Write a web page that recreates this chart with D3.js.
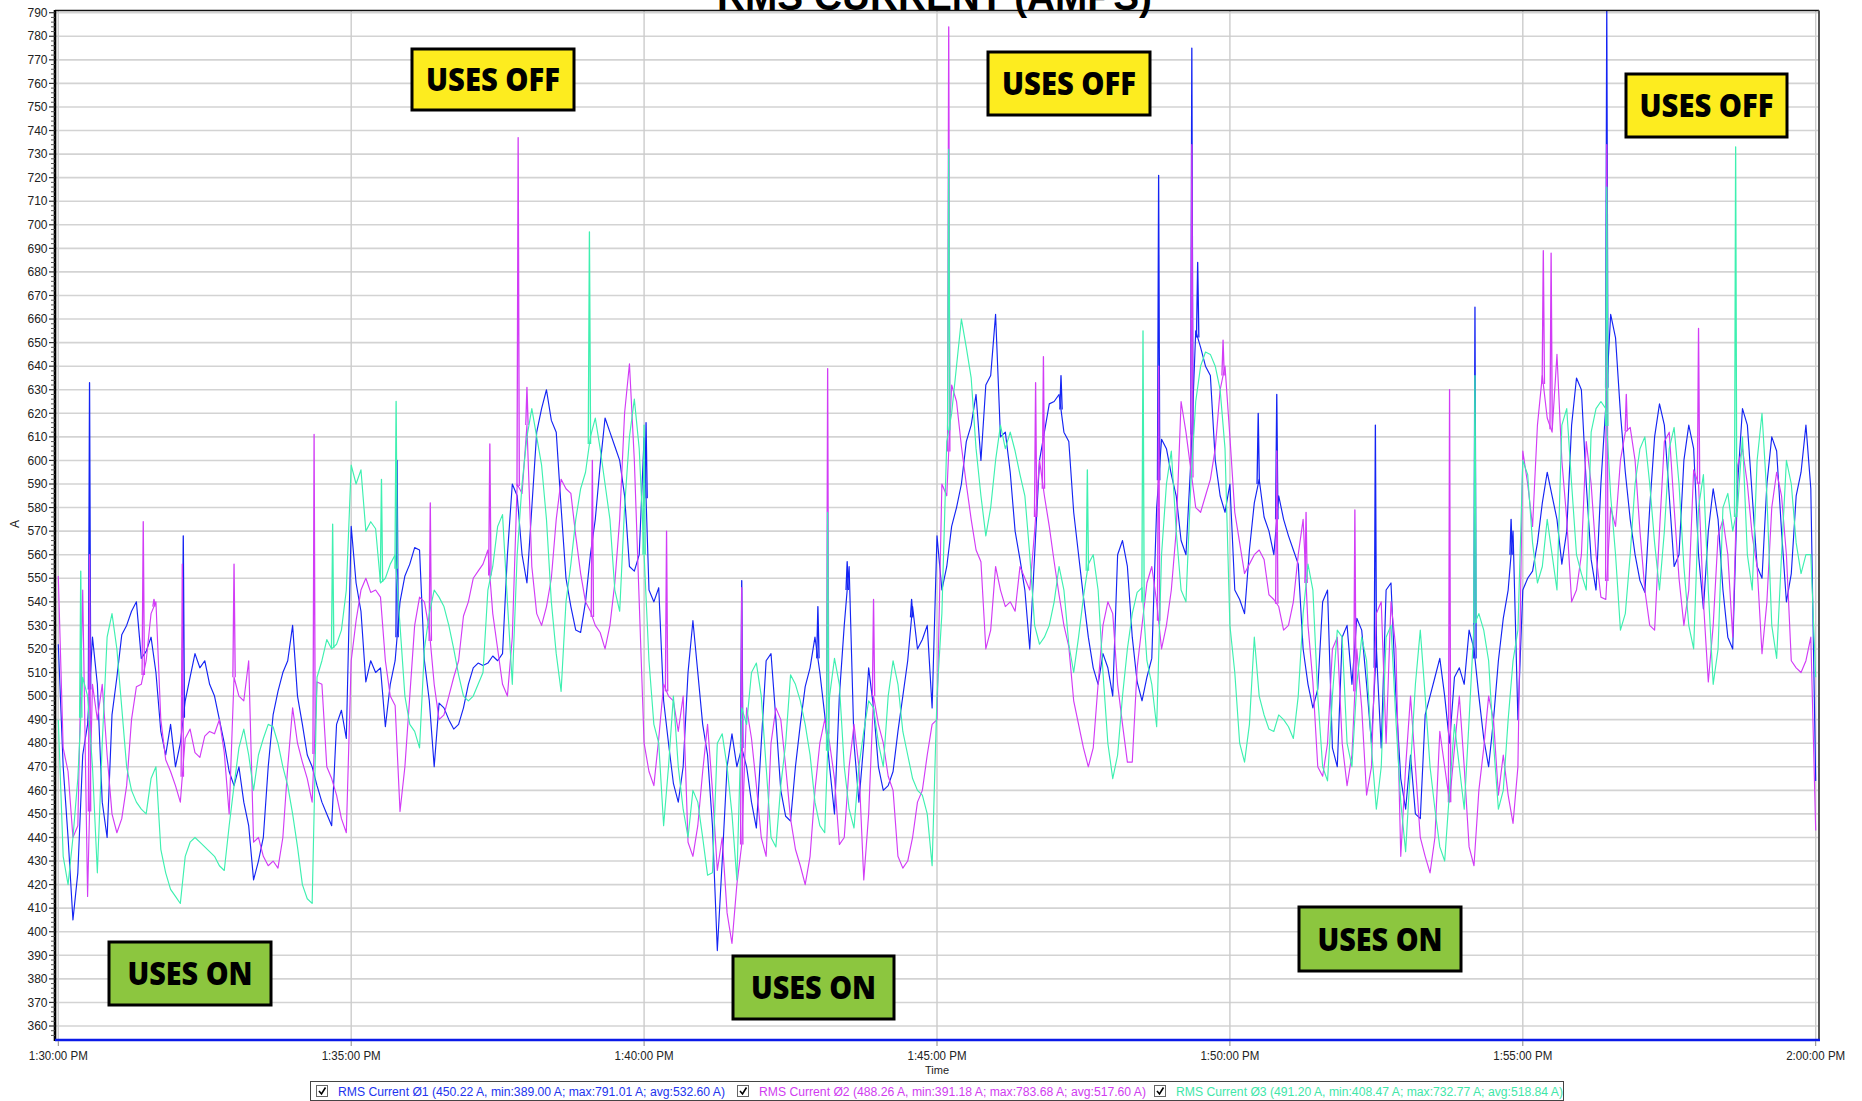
<!DOCTYPE html>
<html><head><meta charset="utf-8">
<script src="https://cdn.jsdelivr.net/npm/d3@7"></script>
<style>
html,body{margin:0;padding:0;background:#fff;}
svg{display:block;font-family:"Liberation Sans",Arial,sans-serif;}
</style></head><body>
<svg id="chart" width="1862" height="1101"></svg>
<script>
// ---------------- DATA ----------------
const chartTitle = "RMS CURRENT (AMPS)";
const xAxisTitle = "Time";
const yAxisTitle = "A";
const sampleStepSeconds = 5;              // one reading every 5 s, 13:30:00 -> 14:00:00
const yTickValues = [360,370,380,390,400,410,420,430,440,450,460,470,480,490,500,510,520,530,540,550,560,570,580,590,600,610,620,630,640,650,660,670,680,690,700,710,720,730,740,750,760,770,780,790];
const xTickLabels = ["1:30:00 PM","1:35:00 PM","1:40:00 PM","1:45:00 PM","1:50:00 PM","1:55:00 PM","2:00:00 PM"];
const seriesNames = [
  "RMS Current Ø1 (450.22 A, min:389.00 A; max:791.01 A; avg:532.60 A)",
  "RMS Current Ø2 (488.26 A, min:391.18 A; max:783.68 A; avg:517.60 A)",
  "RMS Current Ø3 (491.20 A, min:408.47 A; max:732.77 A; avg:518.84 A)"
];
const annotationLabels = ["USES OFF","USES OFF","USES OFF","USES ON","USES ON","USES ON"];

// Ø1 (one row = one minute, 12 readings)
const phase1 = [
522,470,440,405,425,475,488,525,505,455,440,492,
508,526,530,536,540,516,519,525,510,485,475,488,
470,480,498,508,518,512,515,505,500,490,480,468,
462,470,455,445,422,430,440,470,492,502,510,515,
530,500,488,475,470,462,455,450,445,488,494,482,
572,548,536,506,515,510,512,487,505,515,540,551,
556,563,562,515,498,470,497,495,490,486,488,495,
505,512,514,513,514,517,515,518,560,590,585,560,
548,580,612,622,630,617,612,580,550,538,528,527,
540,560,575,598,618,612,606,600,585,555,553,560,
610,545,540,546,498,480,463,455,470,510,532,510,
488,475,445,392,430,470,484,470,478,470,455,444,
480,515,518,490,460,449,447,470,488,504,512,525,
510,492,470,450,500,530,555,480,455,480,512,495,
470,460,462,468,485,500,515,538,520,524,530,495,
568,545,555,572,580,590,608,615,628,600,632,636,
662,610,612,595,570,558,545,520,560,600,612,624,
625,628,612,608,578,560,542,525,512,505,518,512,
500,560,566,555,525,506,498,508,516,580,609,605,
594,585,566,560,600,655,648,640,636,600,585,578,
590,545,541,535,562,582,592,576,570,560,585,575,
568,562,556,520,505,495,503,540,545,478,470,525,
530,505,533,528,505,480,520,478,545,548,500,465,
452,475,450,448,492,500,508,516,500,480,508,512,
505,528,520,500,482,470,490,515,533,545,570,490,
545,550,553,565,582,595,585,575,556,570,615,635,
630,590,558,545,590,623,662,652,620,595,575,560,
549,544,580,610,624,615,585,555,560,600,615,605,
560,537,570,588,575,545,525,520,590,622,615,585,
555,550,590,610,604,570,540,552,585,595,615,588,
464];

// Ø2
const phase2 = [
551,478,468,440,445,545,415,505,490,505,475,450,
442,448,462,490,504,505,515,535,540,490,473,468,
462,455,482,486,476,474,483,485,484,490,476,450,
508,500,498,515,438,440,432,428,430,427,440,470,
495,480,472,465,455,506,505,470,465,458,448,442,
515,532,545,550,544,545,542,515,500,496,451,470,
500,530,542,540,528,505,490,492,500,508,515,534,
540,550,553,556,562,535,520,505,500,525,590,586,
615,555,535,530,538,550,575,592,588,586,568,552,
540,536,530,527,520,530,548,575,620,641,600,540,
480,468,462,482,505,500,498,485,500,438,432,445,
468,488,460,426,440,408,395,420,437,495,482,462,
440,432,480,495,490,470,448,435,428,420,432,460,
480,490,480,465,437,440,470,488,470,422,450,500,
488,480,466,460,432,427,430,440,455,460,475,488,
490,590,585,632,625,606,590,575,562,557,520,528,
555,545,538,540,536,555,550,545,570,600,585,572,
557,543,530,521,498,488,478,470,478,505,530,540,
535,505,488,472,472,512,530,548,555,540,520,530,
545,570,625,612,596,580,578,585,592,605,630,640,
610,578,565,552,556,560,562,558,543,541,538,528,
530,540,560,575,530,506,470,466,480,520,525,480,
462,475,520,495,458,470,535,540,480,540,520,432,
470,500,470,440,432,425,440,485,470,455,478,500,
470,436,428,460,478,500,490,458,475,458,446,470,
604,590,572,615,636,618,612,645,600,575,540,545,
560,608,590,560,542,541,580,572,600,612,614,600,
570,545,530,528,570,608,612,580,550,530,545,596,
590,540,506,530,568,575,560,525,598,605,590,568,
555,518,540,580,595,585,560,515,512,510,515,525,
443];

// Ø3
const phase3 = [
490,432,420,440,465,508,500,470,425,480,525,535,
520,495,470,460,455,452,450,465,470,435,425,418,
415,412,432,438,440,438,436,434,432,428,426,445,
462,478,486,475,460,475,482,488,487,480,470,462,
450,436,420,414,412,508,515,524,520,522,528,545,
598,590,596,570,574,571,548,550,556,560,530,500,
488,485,478,520,535,545,542,538,530,520,509,500,
498,500,505,510,545,555,572,577,540,505,560,590,
610,622,610,598,575,540,518,502,540,556,575,588,
595,610,618,605,590,575,545,536,580,610,626,605,
560,515,488,480,445,470,500,470,452,440,460,455,
440,424,425,480,484,470,450,422,495,488,510,514,
500,470,440,436,462,480,509,505,498,488,475,455,
445,442,500,516,505,470,452,444,470,485,498,495,
480,470,500,515,505,485,475,465,460,458,450,428,
500,535,608,620,640,660,648,635,605,585,568,580,
600,615,605,612,604,594,585,560,530,522,525,530,
540,555,545,522,510,525,542,556,560,545,510,480,
465,475,500,520,535,544,546,515,505,487,560,590,
604,570,545,540,590,625,640,646,645,640,630,605,
530,510,480,472,488,525,500,492,486,485,492,490,
487,482,500,535,556,545,500,470,464,500,528,525,
480,470,505,525,515,478,452,470,525,530,490,455,
434,470,505,528,500,470,452,436,430,460,488,470,
452,490,530,535,528,515,480,452,460,490,515,528,
600,594,565,548,555,575,560,545,615,622,590,560,
552,545,612,622,625,622,585,560,528,535,560,590,
605,610,590,565,545,570,605,614,590,555,530,520,
580,594,545,505,520,580,586,570,580,610,560,545,
600,620,585,530,516,560,600,590,565,552,560,560,
508];

// short single-reading spikes: [seconds after 13:30:00, peak amps]
const spikes1 = [[32,633],[128,568],[347,600],[602,616],[700,549],[778,538],[808,557],[874,541],[1027,636],[1127,721],[1161,775],[1167,684],[1229,620],[1248,628],[1349,615],[1451,665],[1488,575],[1586,791]];
const spikes2 = [[32,560],[87,574],[98,541],[127,556],[180,556],[262,611],[381,582],[442,607],[471,737],[480,631],[547,600],[623,570],[700,546],[788,639],[835,541],[912,784],[1001,633],[1009,644],[1127,640],[1161,734],[1193,651],[1248,604],[1278,578],[1328,579],[1425,630],[1521,689],[1529,688],[1586,734],[1606,628],[1680,656]];
const spikes3 = [[23,553],[281,573],[331,592],[346,625],[544,697],[600,615],[788,578],[912,732],[1054,596],[1111,655],[1451,636],[1586,716],[1718,733]];

// ---------------- STYLE / LAYOUT ----------------
const colors = ["#1424f4","#d23cf6","#3ef0b0"];
const legendColors = ["#2233ee","#d03cf0","#3fe6a8"];
const W = 1862, H = 1101;
const plot = {left:55, right:1819, top:10.5, bottom:1040};
const boxes = [
  {x:412,y:49,w:162,h:61,fill:"#fdec1f",tw:134},
  {x:988,y:52,w:162,h:63,fill:"#fdec1f",tw:134},
  {x:1626,y:74,w:161,h:63,fill:"#fdec1f",tw:134},
  {x:109,y:942,w:162,h:63,fill:"#8cc63f",tw:125},
  {x:733,y:956,w:161,h:63,fill:"#8cc63f",tw:125},
  {x:1299,y:907,w:162,h:64,fill:"#8cc63f",tw:125}
];

const svg = d3.select("#chart");
svg.append("rect").attr("width",W).attr("height",H).attr("fill","#fff");

const t0 = new Date(2020,0,1,13,30,0);
const toDate = s => new Date(t0.getTime() + s*1000);
const x = d3.scaleTime().domain([t0, toDate(1800)]).range([58.3, 1815.7]);
const y = d3.scaleLinear().domain([360,790]).range([1026,12.7]);

// clip
svg.append("clipPath").attr("id","clip").append("rect")
  .attr("x",plot.left).attr("y",plot.top).attr("width",plot.right-plot.left).attr("height",plot.bottom-plot.top);

// horizontal grid
svg.append("g").selectAll("line").data(yTickValues).join("line")
  .attr("x1",plot.left).attr("x2",plot.right)
  .attr("y1",d=>y(d)).attr("y2",d=>y(d))
  .attr("stroke","#d3d3d3").attr("stroke-width",1.6);

// vertical grid
const xTicks = d3.timeMinute.every(5).range(t0, toDate(1801));
svg.append("g").selectAll("line").data(xTicks).join("line")
  .attr("x1",d=>x(d)).attr("x2",d=>x(d))
  .attr("y1",plot.top).attr("y2",plot.bottom)
  .attr("stroke","#cccccc").attr("stroke-width",1.4);

// series
const allSeries = [phase1, phase2, phase3];
const allSpikes = [spikes1, spikes2, spikes3];
const lineGen = d3.line().x(d=>x(toDate(d[0]))).y(d=>y(d[1]));
const gLines = svg.append("g").attr("clip-path","url(#clip)");
allSeries.forEach((vals,i)=>{
  const pts = vals.map((v,k)=>[k*sampleStepSeconds, v]);
  gLines.append("path").datum(pts)
    .attr("fill","none").attr("stroke",colors[i]).attr("stroke-width",1.15)
    .attr("stroke-linejoin","round").attr("d",lineGen);
  // spikes: narrow excursions from the line up to the read peak
  const baseAt = s => { const k = Math.min(Math.floor(s/sampleStepSeconds), vals.length-2); const f = s/sampleStepSeconds - k; return vals[k]*(1-f)+vals[k+1]*f; };
  gLines.append("g").selectAll("path").data(allSpikes[i]).join("path")
    .attr("fill","none").attr("stroke",colors[i]).attr("stroke-width",1.3)
    .attr("stroke-linejoin","round")
    .attr("d",d=>{
      const b = baseAt(d[0]);
      return lineGen([[d[0]-1.2,b],[d[0],d[1]],[d[0]+1.2,b]]);
    });
});

// frame
svg.append("line").attr("x1",plot.left).attr("x2",plot.right).attr("y1",plot.top).attr("y2",plot.top).attr("stroke","#111").attr("stroke-width",1.6);
svg.append("line").attr("x1",plot.right).attr("x2",plot.right).attr("y1",plot.top).attr("y2",plot.bottom).attr("stroke","#555").attr("stroke-width",2);
svg.append("line").attr("x1",plot.left).attr("x2",plot.left).attr("y1",plot.top-0.5).attr("y2",plot.bottom+1).attr("stroke","#000").attr("stroke-width",2.6);
svg.append("line").attr("x1",plot.left).attr("x2",plot.right+1).attr("y1",plot.bottom).attr("y2",plot.bottom).attr("stroke","#0a1ae8").attr("stroke-width",2.6);

// y axis ticks
const minor = d3.range(356, 791, 2).filter(v=>v%10!==0);
svg.append("g").selectAll("line").data(minor).join("line")
  .attr("x1",plot.left-4).attr("x2",plot.left).attr("y1",d=>y(d)).attr("y2",d=>y(d))
  .attr("stroke","#555").attr("stroke-width",1);
svg.append("g").selectAll("line").data(yTickValues).join("line")
  .attr("x1",plot.left-6).attr("x2",plot.left).attr("y1",d=>y(d)).attr("y2",d=>y(d))
  .attr("stroke","#333").attr("stroke-width",1.2);
svg.append("g").selectAll("text").data(yTickValues).join("text")
  .attr("x",47.5).attr("y",d=>y(d)).attr("dy","0.35em")
  .attr("text-anchor","end").attr("font-size",12).attr("fill","#222")
  .text(d=>d);

// x axis ticks
svg.append("g").selectAll("line").data(xTicks).join("line")
  .attr("x1",d=>x(d)).attr("x2",d=>x(d)).attr("y1",plot.bottom+1).attr("y2",plot.bottom+6)
  .attr("stroke","#888").attr("stroke-width",1);
svg.append("g").selectAll("text").data(xTicks).join("text")
  .attr("x",d=>x(d)).attr("y",1060).attr("text-anchor","middle")
  .attr("font-size",12).attr("fill","#222")
  .attr("textLength",59).attr("lengthAdjust","spacingAndGlyphs")
  .text((d,i)=>xTickLabels[i]);

// axis titles
svg.append("text").attr("x",x(toDate(900))).attr("y",1074).attr("text-anchor","middle")
  .attr("font-size",11).attr("fill","#222").text(xAxisTitle);
svg.append("text").attr("transform","translate(19,524) rotate(-90)").attr("text-anchor","middle")
  .attr("font-size",12).attr("fill","#222").text(yAxisTitle);

// title (cropped at the top edge, as in the reference)
svg.append("text").attr("x",934.5).attr("y",10).attr("text-anchor","middle")
  .attr("font-size",39).attr("font-weight","bold").attr("fill","#000")
  .attr("textLength",435).attr("lengthAdjust","spacingAndGlyphs").text(chartTitle);

// annotation boxes
const gA = svg.append("g");
boxes.forEach((b,i)=>{
  gA.append("rect").attr("x",b.x).attr("y",b.y).attr("width",b.w).attr("height",b.h)
    .attr("fill",b.fill).attr("stroke","#000").attr("stroke-width",3);
  gA.append("text").attr("x",b.x+b.w/2).attr("y",b.y+b.h/2+11.5).attr("text-anchor","middle")
    .attr("font-family","'Open Sans','Liberation Sans',sans-serif")
    .attr("font-size",31).attr("font-weight",800).attr("fill","#000")
    .attr("textLength",b.tw).attr("lengthAdjust","spacingAndGlyphs")
    .text(annotationLabels[i]);
});

// legend
const gL = svg.append("g");
gL.append("rect").attr("x",310.5).attr("y",1081.5).attr("width",1253).attr("height",19)
  .attr("fill","#fff").attr("stroke","#444").attr("stroke-width",1);
const legX = [316, 737, 1154];
seriesNames.forEach((name,i)=>{
  const cx = legX[i];
  gL.append("rect").attr("x",cx+0.5).attr("y",1085.5).attr("width",11).attr("height",11)
    .attr("fill","#fff").attr("stroke","#666").attr("stroke-width",1);
  gL.append("path").attr("d",`M${cx+3},${1091} L${cx+5.5},${1094} L${cx+9.5},${1087.5}`)
    .attr("fill","none").attr("stroke","#000").attr("stroke-width",1.6);
  gL.append("text").attr("x",cx+22).attr("y",1095.5).attr("font-size",12)
    .attr("fill",legendColors[i]).attr("textLength",387).attr("lengthAdjust","spacingAndGlyphs")
    .text(name);
});
</script>
</body></html>
